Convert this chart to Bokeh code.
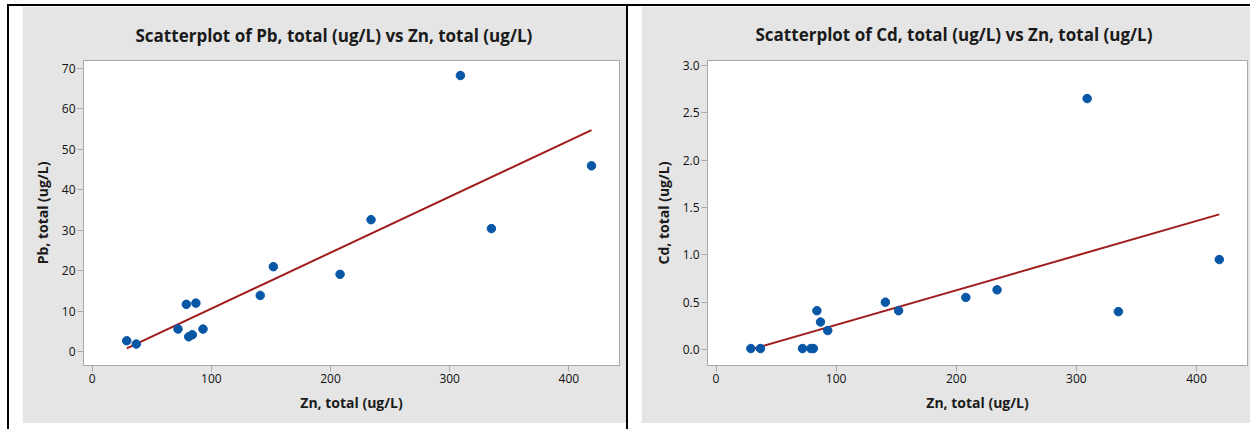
import numpy as np
from bokeh.plotting import figure
from bokeh.layouts import row, column
from bokeh.models import Div, Spacer, Range1d, FixedTicker, NumeralTickFormatter
from bokeh.embed import file_html
from bokeh.resources import INLINE

# ---- data ----
zn_total = [29, 37, 72, 79, 81, 84, 87, 93, 141, 152, 208, 234, 309, 335, 419]
pb_total = [2.7, 1.9, 5.6, 11.7, 3.7, 4.2, 12.0, 5.6, 13.9, 21.0, 19.1, 32.6, 68.2, 30.4, 45.9]
cd_total = [0.01, 0.01, 0.01, 0.01, 0.01, 0.41, 0.29, 0.20, 0.50, 0.41, 0.55, 0.63, 2.65, 0.40, 0.95]
x_ticks = [0, 100, 200, 300, 400]
pb_ticks = [0, 10, 20, 30, 40, 50, 60, 70]
cd_ticks = [0.0, 0.5, 1.0, 1.5, 2.0, 2.5, 3.0]

BG = "#e5e5e5"
FRAME = "#a8a8a8"
DOT = "#0856a6"
FIT = "#a01c1c"
FONT = "Open Sans"


def make_panel(x, y, title, ylabel, xr, yr, yticks, yfmt, w, h, borders, title_offset, title_standoff):
    bl, br, bt, bb = borders
    p = figure(width=w, height=h, output_backend="svg", toolbar_location=None,
               x_range=Range1d(*xr), y_range=Range1d(*yr),
               min_border_left=bl, min_border_right=br, min_border_top=bt, min_border_bottom=bb,
               background_fill_color="white", border_fill_color=BG,
               outline_line_color=FRAME, outline_line_width=1)
    p.title.text = title
    p.title.align = "left"
    p.title.offset = title_offset
    p.title.text_font = FONT
    p.title.text_font_size = "17px"
    p.title.text_font_style = "bold"
    p.title.text_color = "#1a1a1a"
    if "standoff" in p.title.properties():
        p.title.standoff = title_standoff
    p.grid.visible = False
    p.xaxis.ticker = FixedTicker(ticks=x_ticks)
    p.yaxis.ticker = FixedTicker(ticks=yticks)
    if yfmt:
        p.yaxis.formatter = NumeralTickFormatter(format=yfmt)
    p.xaxis.axis_label = "Zn, total (ug/L)"
    p.yaxis.axis_label = ylabel
    for ax in (p.xaxis, p.yaxis):
        ax.axis_line_color = FRAME
        ax.major_tick_line_color = FRAME
        ax.major_tick_out = 6
        ax.major_tick_in = 0
        ax.minor_tick_line_color = None
        ax.major_label_text_font = FONT
        ax.major_label_text_font_size = "12px"
        ax.major_label_text_color = "#111111"
        ax.major_label_standoff = 2
        ax.axis_label_text_font = FONT
        ax.axis_label_text_font_size = "14px"
        ax.axis_label_text_font_style = "bold"
        ax.axis_label_text_color = "#1a1a1a"
        ax.axis_label_standoff = 7
    # regression fit from the data
    xs = np.array(x, dtype=float)
    ys = np.array(y, dtype=float)
    b, a = np.polyfit(xs, ys, 1)
    lx = [xs.min(), xs.max()]
    p.line(lx, [a + b * v for v in lx], line_color=FIT, line_width=2)
    p.scatter(x, y, size=8.5, fill_color=DOT, line_color=DOT)
    return p


p1 = make_panel(zn_total, pb_total, "Scatterplot of Pb, total (ug/L) vs Zn, total (ug/L)",
                "Pb, total (ug/L)", (-7.3, 442.5), (-3.4, 71.9), pb_ticks, None,
                604, 417, (61, 7, 51, 58), 52, 27)
p2 = make_panel(zn_total, cd_total, "Scatterplot of Cd, total (ug/L) vs Zn, total (ug/L)",
                "Cd, total (ug/L)", (-7.1, 442.5), (-0.169, 3.052), cd_ticks, "0.0",
                609, 417, (66, 3, 53, 53), 48, 29)


def black(w, h):
    return Div(width=w, height=h, margin=0, styles={"background-color": "black"})


top = row(Spacer(width=7, height=2, margin=0), black(1243, 2), spacing=0, margin=0)
body = row(Spacer(width=7, height=417, margin=0), black(2, 423), Spacer(width=13, height=417, margin=0),
           p1, black(2, 423), Spacer(width=13, height=417, margin=0), p2, spacing=0, margin=0)
layout = column(Spacer(width=1250, height=4, margin=0), top, body, spacing=0, margin=0)

open("out.html", "w").write(file_html(layout, INLINE))
